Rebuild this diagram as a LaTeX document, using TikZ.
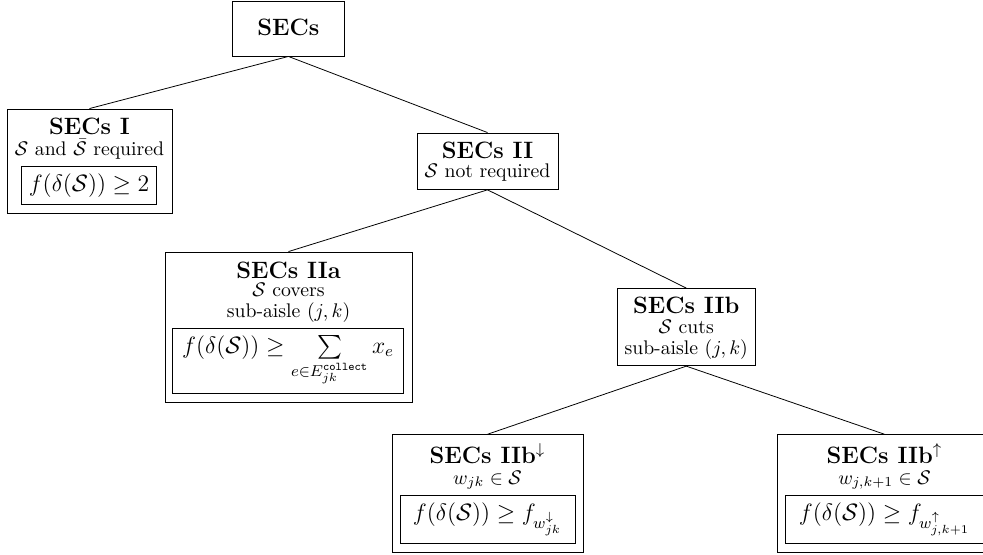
\documentclass[tikz,border=0pt]{standalone}
\usepackage{amsmath,amssymb}
\usetikzlibrary{fit}
\begin{document}
\begin{tikzpicture}[x=0.507pt,y=-0.507pt,
  box/.style={draw,line width=0.45pt,inner sep=0pt},
  ttl/.style={anchor=base,font=\large\bfseries,inner sep=0pt},
  sub/.style={anchor=base,inner sep=0pt},
  frm/.style={draw,line width=0.45pt,inner sep=0pt,font=\large}]
\useasboundingbox (0,0) rectangle (983,554);
% root
\node[box,fit={(232.6,1)(344.2,56)}] (root) {};
\node[ttl] (roott) at (288.4,36) {SECs};
% SECs I
\node[box,fit={(7,109)(172,213.5)}] (s1) {};
\node[ttl] (s1t) at (89.5,134) {SECs I};
\node[sub] (s1s) at (89.5,155.5) {$\mathcal{S}$ and $\bar{\mathcal{S}}$ required};
\node[frm,minimum width=68.6pt,minimum height=19.4pt] (s1f) at (89,185.5) {$f(\delta(\mathcal{S}))\geq 2$};
% SECs II
\node[box,fit={(417,133)(558,189.4)}] (s2) {};
\node[ttl] (s2t) at (487.5,158) {SECs II};
\node[sub] (s2s) at (487.5,177.5) {$\mathcal{S}$ not required};
% SECs IIa
\node[box,fit={(165,252)(412,402.5)}] (s2a) {};
\node[ttl] (s2at) at (288.5,278) {SECs IIa};
\node[sub] (s2as1) at (288.5,296.5) {$\mathcal{S}$ covers};
\node[sub] (s2as2) at (288.5,317) {sub-aisle $(j,k)$};
\node[frm,minimum width=117.3pt,minimum height=33pt] (s2af) at (288.1,361) {$f(\delta(\mathcal{S}))\geq \sum\limits_{e\in E^{\texttt{collect}}_{jk}} x_e$};
% SECs IIb
\node[box,fit={(617,288.5)(755.5,365.7)}] (s2b) {};
\node[ttl] (s2bt) at (686.2,313) {SECs IIb};
\node[sub] (s2bs1) at (686.2,333.5) {$\mathcal{S}$ cuts};
\node[sub] (s2bs2) at (686.2,354) {sub-aisle $(j,k)$};
% SECs IIb down
\node[box,fit={(392,434.7)(583,552)}] (sd) {};
\node[ttl] (sdt) at (487.5,463) {SECs IIb$^{\downarrow}$};
\node[sub] (sds) at (487.5,484) {$w_{jk}\in\mathcal{S}$};
\node[frm,minimum width=88.7pt,minimum height=24.2pt] (sdf) at (487.5,519.5) {$f(\delta(\mathcal{S}))\geq f_{w^{\downarrow}_{jk}}$};
% SECs IIb up
\node[box,fit={(777,434.7)(992,552)}] (su) {};
\node[ttl] (sut) at (884.5,463) {SECs IIb$^{\uparrow}$};
\node[sub] (sus) at (884.5,484) {$w_{j,k+1}\in\mathcal{S}$};
\node[frm,minimum width=100.3pt,minimum height=24.2pt] (suf) at (884.5,519.5) {$f(\delta(\mathcal{S}))\geq f_{w^{\uparrow}_{j,k+1}}$};
% connectors
\draw (root.south) -- (s1.north);
\draw (root.south) -- (s2.north);
\draw (s2.south) -- (s2a.north);
\draw (s2.south) -- (s2b.north);
\draw (s2b.south) -- (sd.north);
\draw (s2b.south) -- (su.north);
\end{tikzpicture}
\end{document}
